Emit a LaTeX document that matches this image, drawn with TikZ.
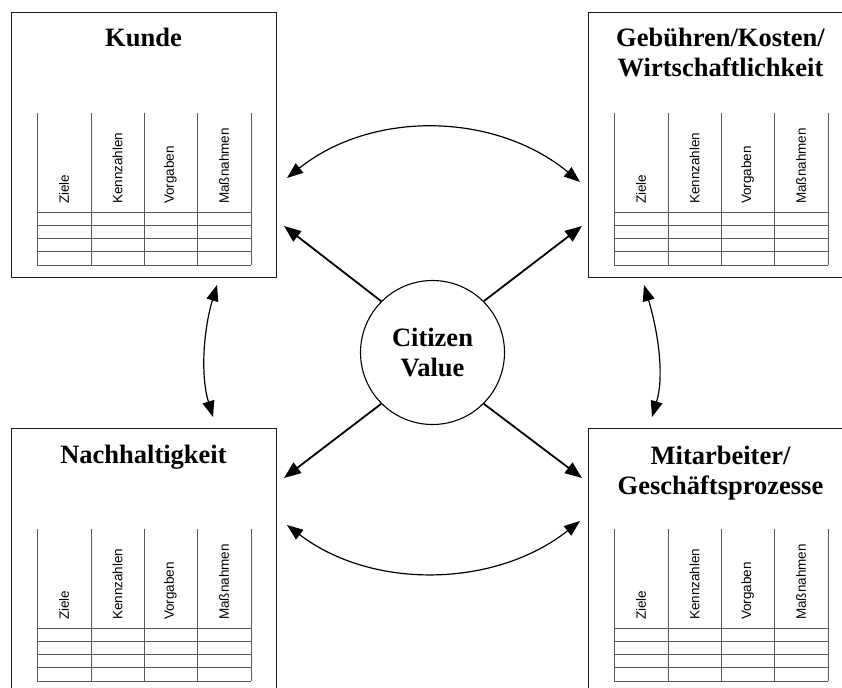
\documentclass[tikz,border=0pt]{standalone}
\usepackage{fontspec}
\setmainfont{Liberation Serif}
\setsansfont{Liberation Sans}
\usetikzlibrary{arrows.meta}
\tikzset{
  boxframe/.style={draw=black!90, line width=1.3pt, inner sep=0pt, minimum width=265pt, minimum height=265pt, anchor=north west},
  tabline/.style={draw=black!65, line width=0.8pt},
  collabel/.style={rotate=90, anchor=west, inner sep=0pt, font=\fontsize{13.5}{15}\selectfont\sffamily},
  boxtitle/.style={inner sep=0pt, align=center, font=\fontsize{26.5}{30}\selectfont\bfseries},
  spoke/.style={line width=1.8pt, -{Triangle[length=17pt,width=13pt]}},
  relation/.style={line width=1.2pt, {Triangle[length=16pt,width=12pt]}-{Triangle[length=16pt,width=12pt]}},
}
\newcommand{\bscbox}[3]{%
  \begin{scope}[shift={(#2,#3)}]
    \node[boxframe] (#1) at (0,0) {};
    \foreach \xx in {26,80,133,186,240} \draw[tabline] (\xx,101) -- (\xx,253);
    \foreach \yy in {200.3,213.7,226.3,239.7,253} \draw[tabline] (26,\yy) -- (240,\yy);
    \node[collabel] (#1-c1) at (53,192) {Ziele};
    \node[collabel] (#1-c2) at (106.5,192) {Kennzahlen};
    \node[collabel] (#1-c3) at (159.5,192) {Vorgaben};
    \node[collabel] (#1-c4) at (213,192) {Maßnahmen};
  \end{scope}}
\begin{document}
\begin{tikzpicture}[x=1pt,y=-1pt]
\clip (0,0) rectangle (842,687);
\fill[white] (0,0) rectangle (842,687);

\bscbox{kunde}{11}{12}
\bscbox{kosten}{588}{12}
\bscbox{nach}{11}{428}
\bscbox{mit}{588}{428}

\node[boxtitle, anchor=base] (t1) at (143.5,47) {Kunde};
\node[boxtitle, anchor=base] (t2) at (720.5,77) {Gebühren/Kosten/\\Wirtschaftlichkeit};
\node[boxtitle, anchor=base] (t3) at (143.5,463) {Nachhaltigkeit};
\node[boxtitle, anchor=base] (t4) at (720.5,494) {Mitarbeiter/\\Geschäftsprozesse};

\node[circle, draw=black, line width=1.1pt, minimum size=144pt, inner sep=0pt, align=center,
      font=\fontsize{26.5}{30}\selectfont\bfseries] (cv) at (432.5,352.5) {Citizen\\Value};

\coordinate (tnw) at (284,226);
\coordinate (tne) at (582,226);
\coordinate (tsw) at (284,478);
\coordinate (tse) at (582,478);
\draw[spoke] (cv.135) -- (tnw);
\draw[spoke] (cv.45) -- (tne);
\draw[spoke] (cv.225) -- (tsw);
\draw[spoke] (cv.315) -- (tse);

\coordinate (a1) at (287,178);
\coordinate (a2) at (580,182);
\coordinate (b1) at (287,525);
\coordinate (b2) at (580,521);
\coordinate (l1) at (217,285);
\coordinate (l2) at (213,417);
\coordinate (r1) at (644,285);
\coordinate (r2) at (652,417);
\draw[relation] (a1) .. controls (372,110) and (495,112) .. (a2);
\draw[relation] (b1) .. controls (372,590) and (495,588) .. (b2);
\draw[relation] (l1) .. controls (204,328) and (200,374) .. (l2);
\draw[relation] (r1) .. controls (657,328) and (665,374) .. (r2);
\end{tikzpicture}
\end{document}
